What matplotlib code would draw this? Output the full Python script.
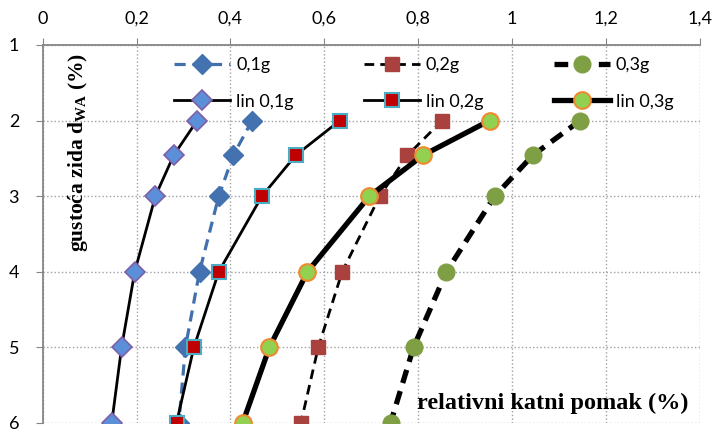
import matplotlib.pyplot as plt
import matplotlib.ticker as ticker

plt.rcParams['font.family'] = ['Lato', 'DejaVu Sans']
plt.rcParams['mathtext.fontset'] = 'custom'
plt.rcParams['mathtext.rm'] = 'Liberation Serif:bold'

# wall density levels (y axis, inverted)
density = [2, 2.46, 3, 4, 5, 6]

# relative storey drift (%) per series
drift_01 = [0.446, 0.406, 0.375, 0.334, 0.304, 0.290]
drift_02 = [0.851, 0.777, 0.718, 0.638, 0.587, 0.550]
drift_03 = [1.145, 1.044, 0.963, 0.860, 0.790, 0.741]
lin_01 = [0.329, 0.279, 0.240, 0.196, 0.168, 0.147]
lin_02 = [0.633, 0.539, 0.467, 0.375, 0.322, 0.285]
lin_03 = [0.952, 0.810, 0.696, 0.564, 0.483, 0.426]

x_ticks = [0, 0.2, 0.4, 0.6, 0.8, 1.0, 1.2, 1.4]
y_ticks = [1, 2, 3, 4, 5, 6]

fig = plt.figure(figsize=(7.12, 4.32), dpi=100)
ax = fig.add_axes([0.060, 0.021, 0.923, 0.875])

h01, = ax.plot(drift_01, density, color='#4170AC', lw=2.3, dashes=(3.5, 2.2),
               marker='D', ms=10, mfc='#4472B0', mec='#4472B0', label='0,1g')
h02, = ax.plot(drift_02, density, color='black', lw=2.0, dashes=(3.5, 2.2),
               marker='s', ms=10, mfc='#A9413E', mec='#A9413E', label='0,2g')
h03, = ax.plot(drift_03, density, color='black', lw=3.8, dashes=(2.6, 1.6),
               marker='o', ms=12, mfc='#7F9F45', mec='#7F9F45', label='0,3g')
l01, = ax.plot(lin_01, density, color='black', lw=2.0,
               marker='D', ms=10, mfc='#5B8FD8', mec='#7F5FA8', mew=1.2, label='lin 0,1g')
l02, = ax.plot(lin_02, density, color='black', lw=2.0,
               marker='s', ms=10, mfc='#C00000', mec='#4BACC6', mew=1.5, label='lin 0,2g')
l03, = ax.plot(lin_03, density, color='black', lw=3.8,
               marker='o', ms=12, mfc='#92D050', mec='#F08A30', mew=1.5, label='lin 0,3g')

ax.set_xlim(0, 1.4)
ax.set_ylim(6, 1)
ax.set_xticks(x_ticks)
ax.set_yticks(y_ticks)
ax.xaxis.tick_top()
ax.xaxis.set_major_formatter(ticker.FuncFormatter(lambda v, _: f'{v:g}'.replace('.', ',')))
ax.tick_params(axis='x', length=5, color='#868686', pad=8, labelsize=13)
ax.tick_params(axis='y', length=5, color='#868686', pad=12, labelsize=13)

ax.grid(True, color='#A0A0A0', linestyle=':', lw=1.0)
ax.set_axisbelow(True)
for side in ['right', 'bottom']:
    ax.spines[side].set_visible(False)
for side in ['top', 'left']:
    ax.spines[side].set_color('#868686')
    ax.spines[side].set_linewidth(1.3)

handles = [h01, l01, h02, l02, h03, l03]
ax.legend(handles=handles, labels=[h.get_label() for h in handles], ncol=3,
          loc='upper left', bbox_to_anchor=(0.2, 0.967), frameon=False,
          fontsize=13, numpoints=1, handlelength=3.1, handletextpad=0.33,
          columnspacing=3.9, labelspacing=1.12, borderpad=0, borderaxespad=0)

ax.text(1.376, 5.74, 'relativni katni pomak (%)', family='Liberation Serif',
        weight='bold', fontsize=17.5, ha='right', va='center')
ax.text(0.075, 2.42, 'gustoća zida d$_{\\mathrm{WA}}$ (%)', family='Liberation Serif',
        weight='bold', fontsize=15.5, rotation=90, ha='center', va='center')

fig.savefig('out.png', dpi=100)
